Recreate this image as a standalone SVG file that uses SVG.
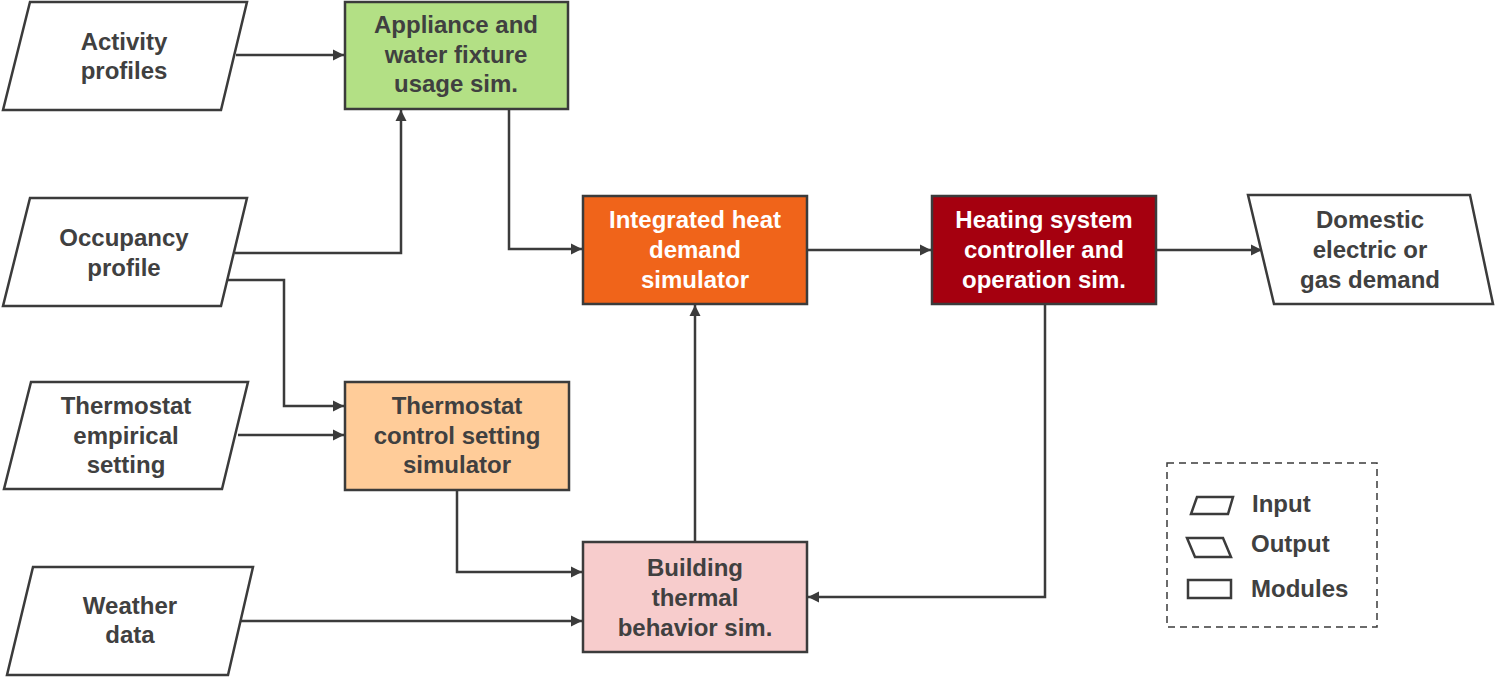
<svg xmlns="http://www.w3.org/2000/svg" width="1496" height="677" viewBox="0 0 1496 677">
<style>
.shape{stroke:#3b3b3b;stroke-width:2.5;}
.io{fill:#ffffff;}
.t{font-family:"Liberation Sans",Arial,sans-serif;font-weight:bold;font-size:24px;fill:#404040;text-anchor:middle;}
.w{fill:#ffffff;}
.c{fill:none;stroke:#3b3b3b;stroke-width:2.5;}
.lt{font-family:"Liberation Sans",Arial,sans-serif;font-weight:bold;font-size:24px;fill:#404040;}
</style>
<defs>
<marker id="arr" markerUnits="userSpaceOnUse" markerWidth="12" markerHeight="12" viewBox="0 0 12 12" refX="11" refY="6" orient="auto">
<path d="M0,0.5 L11,6 L0,11.5 z" fill="#3b3b3b"/>
</marker>
</defs>
<rect width="1496" height="677" fill="#ffffff"/>
<g id="connectors">
<path class="c" d="M236,55 H344" marker-end="url(#arr)"/>
<path class="c" d="M235,253 H401 V110" marker-end="url(#arr)"/>
<path class="c" d="M226,280 H284 V406 H344" marker-end="url(#arr)"/>
<path class="c" d="M238,435 H344" marker-end="url(#arr)"/>
<path class="c" d="M509,109 V249 H582" marker-end="url(#arr)"/>
<path class="c" d="M807,250 H931" marker-end="url(#arr)"/>
<path class="c" d="M1156,250 H1262" marker-end="url(#arr)"/>
<path class="c" d="M1045,304 V597 H808" marker-end="url(#arr)"/>
<path class="c" d="M457,490 V572 H582" marker-end="url(#arr)"/>
<path class="c" d="M241,621 H582" marker-end="url(#arr)"/>
<path class="c" d="M695,542 V305" marker-end="url(#arr)"/>
</g>
<g id="activity">
<polygon class="shape io" points="30,2 247,2 221,110 3,110"/>
<text class="t" x="124" y="50">Activity</text>
<text class="t" x="124" y="79">profiles</text>
</g>
<g id="appliance">
<rect class="shape" x="345" y="2" width="223" height="107" fill="#b3e085"/>
<text class="t" x="456" y="33">Appliance and</text>
<text class="t" x="456" y="63">water fixture</text>
<text class="t" x="456" y="92">usage sim.</text>
</g>
<g id="occupancy">
<polygon class="shape io" points="30,198 247,198 221,306 3,306"/>
<text class="t" x="124" y="246">Occupancy</text>
<text class="t" x="124" y="276">profile</text>
</g>
<g id="thermostat-empirical">
<polygon class="shape io" points="31,382 248,382 222,489 4,489"/>
<text class="t" x="126" y="414">Thermostat</text>
<text class="t" x="126" y="444">empirical</text>
<text class="t" x="126" y="473">setting</text>
</g>
<g id="thermostat-control">
<rect class="shape" x="345" y="382" width="224" height="108" fill="#ffcc99"/>
<text class="t" x="457" y="414">Thermostat</text>
<text class="t" x="457" y="444">control setting</text>
<text class="t" x="457" y="473">simulator</text>
</g>
<g id="weather">
<polygon class="shape io" points="33,567 253,567 228,675 7,675"/>
<text class="t" x="130" y="614">Weather</text>
<text class="t" x="130" y="643">data</text>
</g>
<g id="integrated">
<rect class="shape" x="583" y="196" width="224" height="108" fill="#f0641a"/>
<text class="t w" x="695" y="228">Integrated heat</text>
<text class="t w" x="695" y="258">demand</text>
<text class="t w" x="695" y="288">simulator</text>
</g>
<g id="heating">
<rect class="shape" x="932" y="196" width="224" height="108" fill="#a5000f"/>
<text class="t w" x="1044" y="228">Heating system</text>
<text class="t w" x="1044" y="258">controller and</text>
<text class="t w" x="1044" y="288">operation sim.</text>
</g>
<g id="domestic">
<polygon class="shape io" points="1248,195 1470,195 1493,304 1274,304"/>
<text class="t" x="1370" y="228">Domestic</text>
<text class="t" x="1370" y="258">electric or</text>
<text class="t" x="1370" y="288">gas demand</text>
</g>
<g id="building">
<rect class="shape" x="583" y="542" width="224" height="110" fill="#f7cccc"/>
<text class="t" x="695" y="576">Building</text>
<text class="t" x="695" y="606">thermal</text>
<text class="t" x="695" y="636">behavior sim.</text>
</g>
<g id="legend">
<rect x="1167" y="463" width="210" height="164" fill="none" stroke="#3b3b3b" stroke-width="1.5" stroke-dasharray="7,5"/>
<polygon class="shape io" points="1197,497 1233,497 1228,514 1191,514"/>
<text class="lt" x="1252" y="512">Input</text>
<polygon class="shape io" points="1187,538 1223,538 1231,557 1195,557"/>
<text class="lt" x="1251" y="552">Output</text>
<rect class="shape io" x="1188" y="580" width="43" height="18"/>
<text class="lt" x="1251" y="597">Modules</text>
</g>
</svg>
